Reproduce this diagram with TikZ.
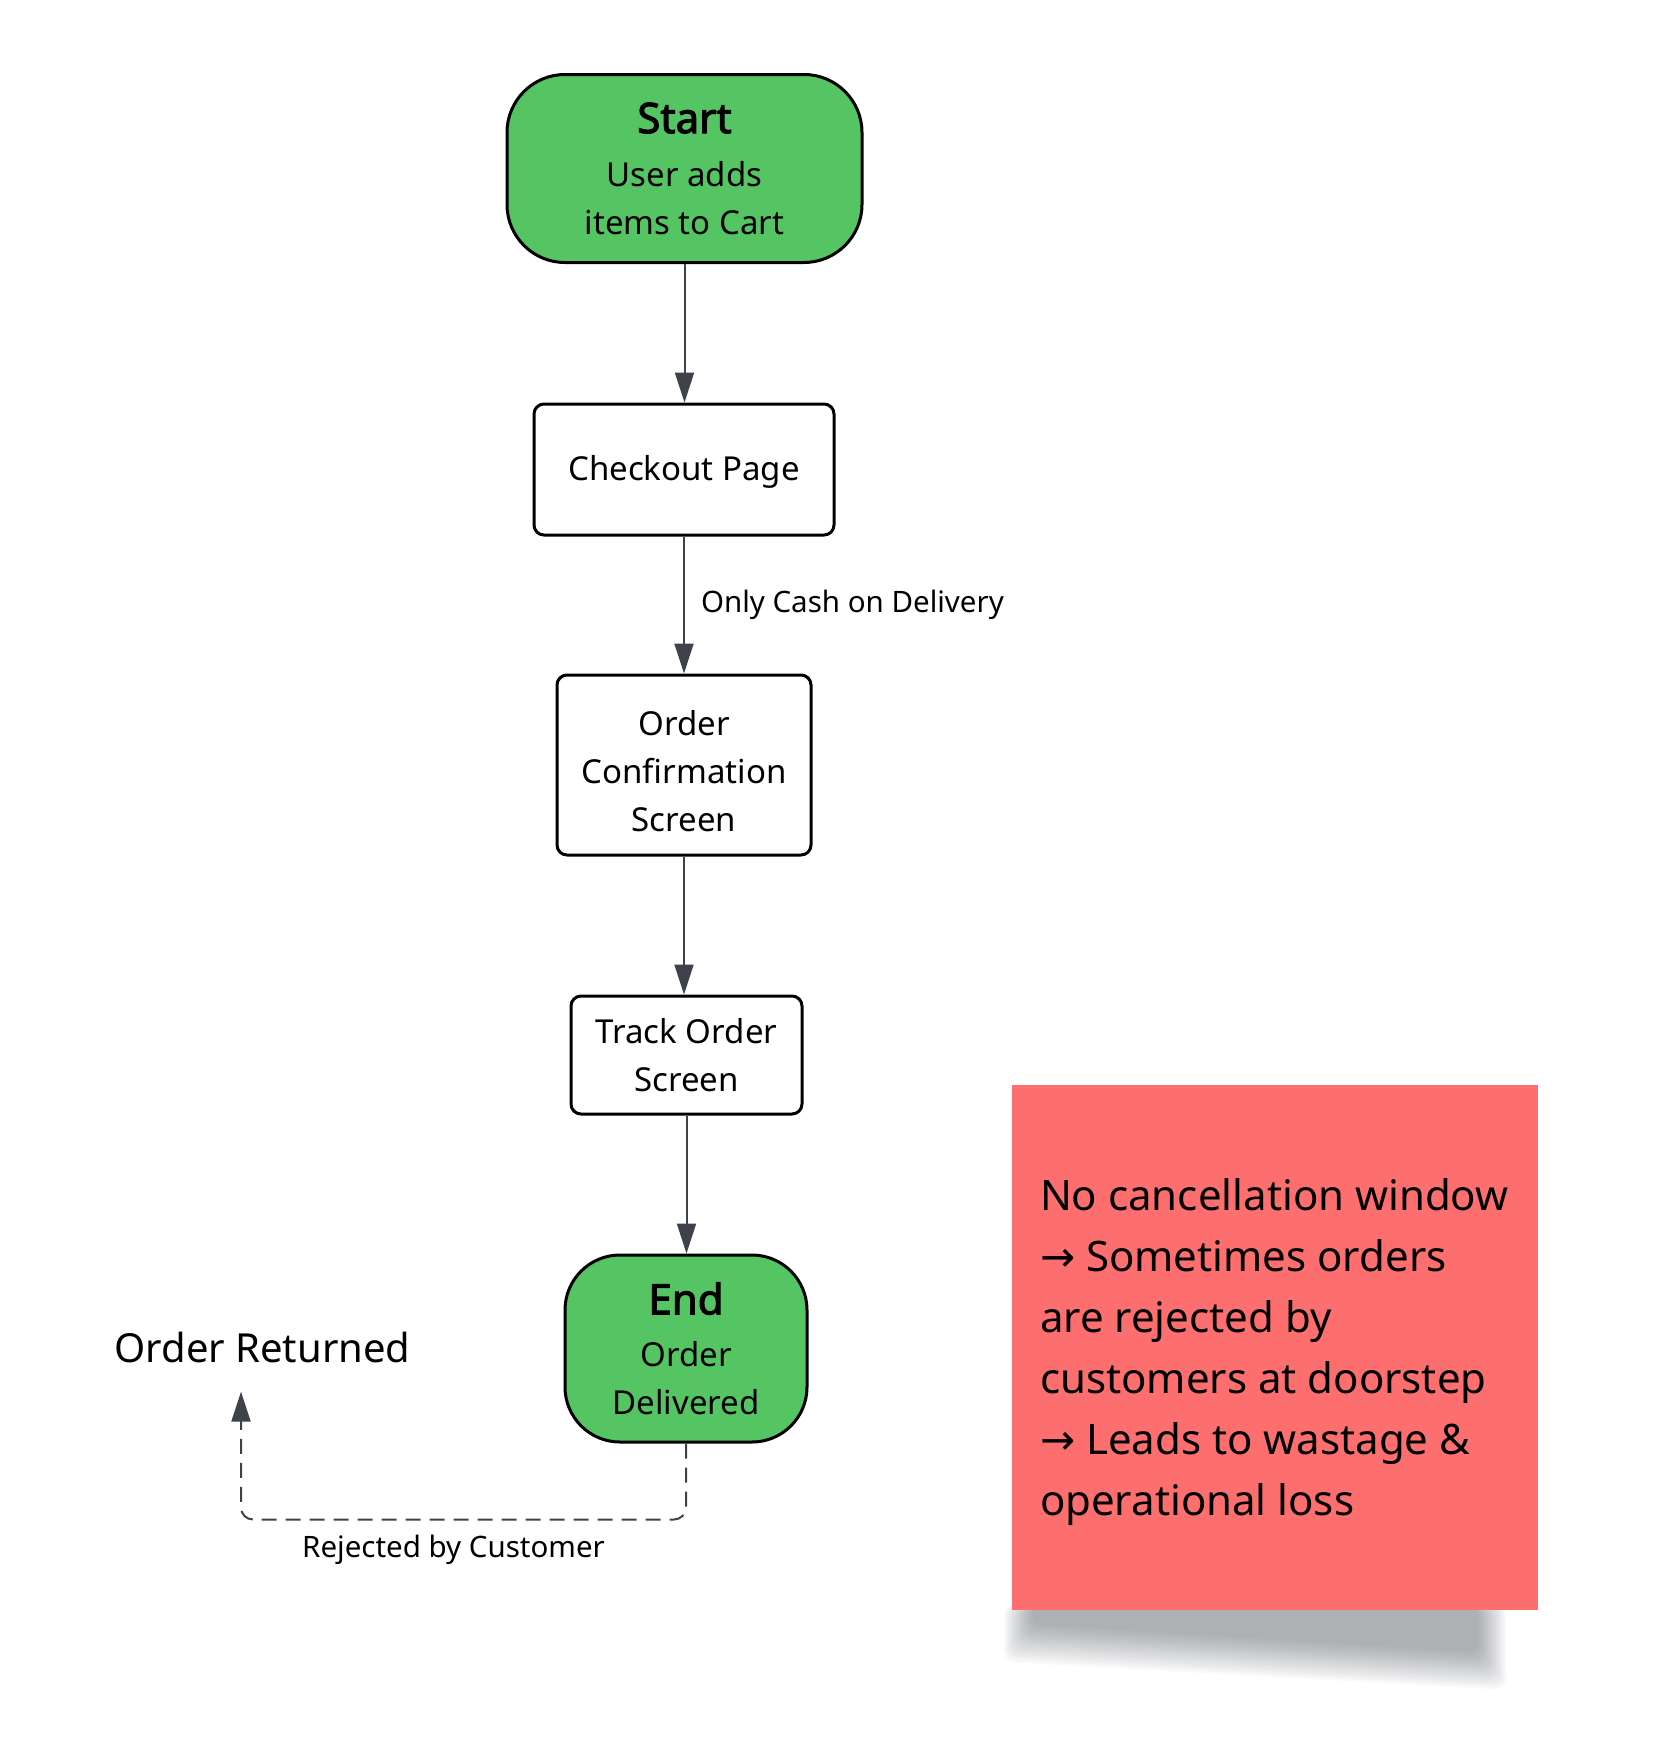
\documentclass[tikz,border=0pt]{standalone}
\usepackage{fontspec}
\setmainfont{Noto Sans}
\newfontfamily\heavyfont{Noto Sans}[FakeBold=2.6]
\newfontfamily\arrowfont{DejaVu Sans}
\usetikzlibrary{arrows.meta,calc}
\definecolor{termgreen}{HTML}{55C463}
\definecolor{notered}{HTML}{FC6F6E}
\definecolor{flowgray}{HTML}{3D424B}
\begin{document}
\begin{tikzpicture}[x=1pt,y=-1pt,
  every node/.style={font=\fontsize{33}{48}\selectfont},
  terminal/.style={draw=black, line width=3pt, fill=termgreen, rounded corners=58pt, align=center, inner sep=0pt},
  stepbox/.style={draw=black, line width=3pt, fill=white, rounded corners=10pt, align=center, inner sep=0pt},
  flow/.style={draw=flowgray, line width=2pt, -{Triangle[length=30pt,width=19pt]}},
  dashflow/.style={flow, dash pattern=on 15pt off 9pt, rounded corners=12pt},
  edgelabel/.style={font=\fontsize{29.5}{34}\selectfont, inner sep=0pt},
]
\useasboundingbox (0,0) rectangle (1667,1748);
\fill[white] (0,0) rectangle (1667,1748);

% flow steps
\node[terminal, minimum width=355pt, minimum height=188pt] (start) at (684.5,168.5)
  {{\heavyfont\fontsize{42}{48}\selectfont Start}\\[5pt]User adds\\items to Cart};
\node[stepbox, minimum width=300pt, minimum height=131pt] (checkout) at (684,469.5) {\rule{0pt}{29pt}Checkout Page};
\node[stepbox, minimum width=254pt, minimum height=180pt] (confirm) at (684,765) {\rule{0pt}{37pt}Order\\Confirmation\\Screen};
\node[stepbox, minimum width=231pt, minimum height=118pt] (track) at (686.5,1055) {Track Order\\Screen};
\node[terminal, minimum width=242pt, minimum height=187pt, rounded corners=55pt] (end) at (686,1348.5)
  {{\heavyfont\fontsize{42}{48}\selectfont End}\\[4pt]Order\\Delivered};
\node[inner sep=0pt, font=\fontsize{40}{48}\selectfont] (ret) at (262.5,1347) {Order Returned};

% connectors
\draw[flow] (start.south) -- (start.south |- checkout.north);
\draw[flow] (checkout.south) -- node[edgelabel, anchor=west, xshift=16pt] {Only Cash on Delivery} (checkout.south |- confirm.north);
\draw[flow] (confirm.south) -- (confirm.south |- track.north);
\draw[flow] (track.south) -- (track.south |- end.north);
\draw[dashflow] (end.south) -- ++(0,76) -| node[edgelabel, pos=0.25, yshift=-30pt, xshift=-10pt] {Rejected by Customer} ($(ret.south)+(-21.5,29)$);

% soft shadow under the sticky note, built from stacked translucent layers
\foreach \i in {0,...,19}
  \fill[flowgray, opacity=0.024, rounded corners=10pt]
    (1004+1.5*\i, 1606) -- (1506-1.5*\i, 1606) -- (1506-1.5*\i, 1690-2*\i) -- (1004+1.5*\i, 1662-2*\i) -- cycle;
\node[fill=notered, minimum width=526pt, minimum height=525pt, inner sep=0pt] (note) at (1275,1347.5) {};
\node[anchor=west, align=left, inner sep=0pt, font=\fontsize{42}{61}\selectfont] (notetext) at ([xshift=28pt,yshift=-5pt]note.west)
  {No cancellation window\\{\arrowfont →} Sometimes orders\\are rejected by\\customers at doorstep\\{\arrowfont →} Leads to wastage \&\\operational loss};
\end{tikzpicture}
\end{document}
